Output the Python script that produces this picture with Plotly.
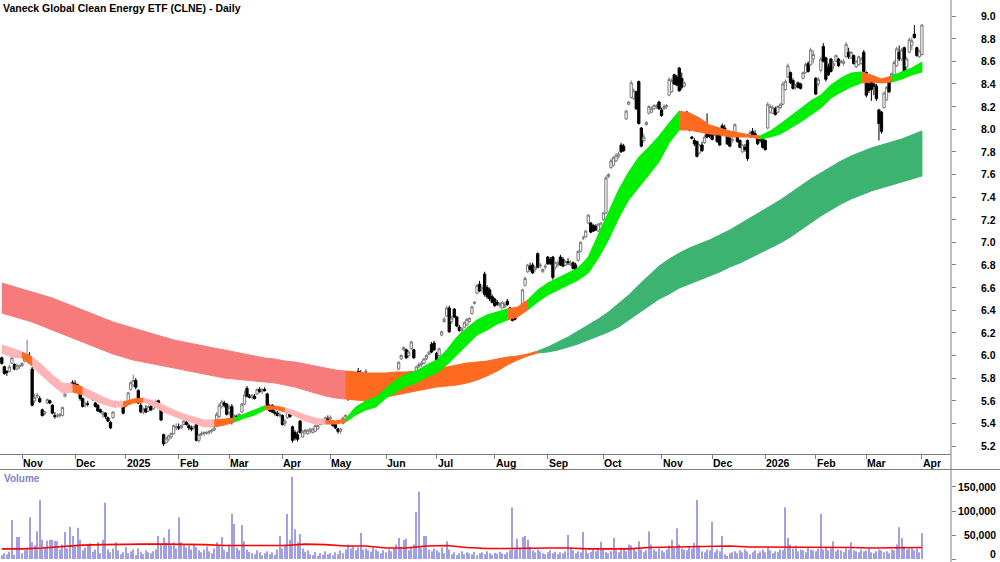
import numpy as np
import pandas as pd
import plotly.graph_objects as go

TITLE = "Vaneck Global Clean Energy ETF (CLNE) - Daily"

# ASX trading calendar (weekdays minus exchange holidays)
holidays = ["2024-12-25", "2024-12-26", "2025-01-01", "2025-01-27", "2025-04-18",
            "2025-04-21", "2025-04-25", "2025-06-09", "2025-12-25", "2025-12-26",
            "2026-01-01", "2026-01-26"]
dates = [d for d in pd.bdate_range("2024-10-22", "2026-04-01")
         if d.strftime("%Y-%m-%d") not in holidays]

month_labels = ["Nov", "Dec", "2025", "Feb", "Mar", "Apr", "May", "Jun", "Jul", "Aug",
                "Sep", "Oct", "Nov", "Dec", "2026", "Feb", "Mar", "Apr"]

opens = [
    5.98, 5.90, 5.86, 5.86, 5.93, 5.92, 5.88, 5.90,  # Oct 24
    5.91, 5.95, 5.96, 5.99, 5.88, 5.60, 5.64, 5.62, 5.52, 5.49, 5.58, 5.60, 5.56, 5.47, 5.46, 5.47, 5.47, 5.64, 5.69, 5.72, 5.76,  # Nov
    5.75, 5.74, 5.72, 5.62, 5.56, 5.57, 5.66, 5.63, 5.58, 5.56, 5.52, 5.48, 5.49, 5.45, 5.41, 5.45, 5.55, 5.57, 5.57, 5.58,  # Dec
    5.55, 5.58, 5.70, 5.74, 5.78, 5.69, 5.56, 5.50, 5.53, 5.51, 5.55, 5.53, 5.58, 5.60, 5.53, 5.30, 5.23, 5.26, 5.28, 5.31, 5.36,  # Jan 25
    5.37, 5.36, 5.39, 5.41, 5.38, 5.36, 5.36, 5.39, 5.25, 5.30, 5.31, 5.31, 5.32, 5.33, 5.34, 5.38, 5.46, 5.55, 5.58, 5.57,  # Feb
    5.50, 5.55, 5.45, 5.46, 5.46, 5.50, 5.57, 5.71, 5.64, 5.63, 5.64, 5.66, 5.70, 5.68, 5.70, 5.66, 5.55, 5.56, 5.50, 5.49, 5.47,  # Mar
    5.47, 5.40, 5.45, 5.48, 5.37, 5.32, 5.30, 5.42, 5.28, 5.33, 5.31, 5.33, 5.32, 5.33, 5.35, 5.39, 5.42, 5.41, 5.44,  # Apr
    5.44, 5.42, 5.39, 5.35, 5.33, 5.40, 5.46, 5.70, 5.64, 5.75, 5.80, 5.86, 5.85, 5.80, 5.85, 5.80, 5.67, 5.64, 5.66, 5.69, 5.74, 5.70,  # May
    5.67, 5.73, 5.76, 5.80, 5.84, 5.88, 5.97, 6.05, 6.05, 6.00, 6.06, 6.05, 5.86, 5.90, 5.92, 5.93, 5.97, 6.01, 6.10, 6.11,  # Jun
    6.02, 6.00, 6.18, 6.30, 6.35, 6.42, 6.30, 6.41, 6.34, 6.25, 6.22, 6.25, 6.27, 6.30, 6.37, 6.46, 6.55, 6.63, 6.58, 6.72, 6.60, 6.58, 6.52,  # Jul
    6.50, 6.47, 6.44, 6.42, 6.43, 6.48, 6.42, 6.38, 6.36, 6.36, 6.37, 6.45, 6.62, 6.74, 6.79, 6.80, 6.76, 6.90, 6.79, 6.74, 6.78,  # Aug
    6.87, 6.85, 6.87, 6.78, 6.80, 6.87, 6.85, 6.80, 6.83, 6.80, 6.82, 6.80, 6.84, 6.92, 7.04, 7.05, 7.17, 7.17, 7.15, 7.14, 7.10, 7.12,  # Sep
    7.20, 7.26, 7.58, 7.66, 7.68, 7.72, 7.76, 7.86, 7.85, 8.09, 8.22, 8.28, 8.27, 8.33, 8.42, 8.01, 7.90, 8.04, 8.14, 8.15, 8.18, 8.20, 8.24,  # Oct
    8.17, 8.18, 8.20, 8.30, 8.33, 8.48, 8.46, 8.54, 8.45, 8.38, 8.15, 8.05, 7.93, 7.90, 7.89, 7.79, 7.86, 7.88, 8.02, 7.99,  # Nov
    7.99, 7.95, 7.98, 7.96, 8.03, 8.01, 7.95, 7.92, 7.90, 7.95, 7.93, 7.90, 7.80, 7.84, 7.90, 7.93, 7.98, 7.96, 7.93, 7.91, 7.92,  # Dec
    7.90, 8.01, 8.15, 8.14, 8.18, 8.15, 8.19, 8.22, 8.35, 8.46, 8.50, 8.43, 8.37, 8.41, 8.40, 8.45, 8.50, 8.58, 8.57, 8.62,  # Jan 26
    8.45, 8.40, 8.52, 8.73, 8.63, 8.55, 8.62, 8.56, 8.60, 8.62, 8.59, 8.58, 8.64, 8.68, 8.63, 8.65, 8.55, 8.57, 8.58, 8.68,  # Feb
    8.50, 8.40, 8.43, 8.40, 8.38, 8.17, 8.15, 8.19, 8.26, 8.42, 8.42, 8.48, 8.56, 8.68, 8.62, 8.72, 8.55, 8.68, 8.74, 8.84, 8.72, 8.64,  # Mar
    8.66,  # Apr
]
highs = [
    5.99, 5.91, 5.87, 5.92, 5.99, 5.93, 5.93, 5.92,
    5.94, 6.02, 6.14, 6.03, 5.90, 5.66, 5.67, 5.64, 5.53, 5.51, 5.62, 5.61, 5.57, 5.50, 5.49, 5.49, 5.55, 5.68, 5.75, 5.76, 5.78,
    5.78, 5.75, 5.73, 5.63, 5.59, 5.60, 5.68, 5.64, 5.59, 5.57, 5.53, 5.51, 5.50, 5.46, 5.42, 5.51, 5.60, 5.59, 5.60, 5.59,
    5.59, 5.68, 5.77, 5.83, 5.80, 5.70, 5.58, 5.54, 5.56, 5.56, 5.58, 5.58, 5.61, 5.61, 5.54, 5.31, 5.28, 5.30, 5.32, 5.39, 5.40,
    5.40, 5.39, 5.43, 5.43, 5.40, 5.38, 5.38, 5.40, 5.31, 5.33, 5.33, 5.33, 5.34, 5.35, 5.37, 5.50, 5.58, 5.61, 5.60, 5.58,
    5.56, 5.57, 5.48, 5.48, 5.49, 5.58, 5.69, 5.73, 5.66, 5.66, 5.66, 5.71, 5.72, 5.71, 5.72, 5.67, 5.57, 5.57, 5.52, 5.51, 5.50,
    5.48, 5.44, 5.52, 5.50, 5.38, 5.34, 5.33, 5.43, 5.34, 5.35, 5.35, 5.36, 5.36, 5.39, 5.39, 5.43, 5.44, 5.46, 5.47,
    5.47, 5.43, 5.41, 5.36, 5.36, 5.46, 5.48, 5.72, 5.70, 5.81, 5.84, 5.89, 5.87, 5.82, 5.88, 5.81, 5.68, 5.68, 5.70, 5.73, 5.78, 5.78,
    5.75, 5.76, 5.82, 5.85, 5.85, 5.95, 6.01, 6.08, 6.06, 6.05, 6.13, 6.06, 5.91, 5.94, 5.95, 5.98, 6.01, 6.04, 6.12, 6.13,
    6.03, 6.07, 6.22, 6.34, 6.44, 6.44, 6.35, 6.42, 6.35, 6.27, 6.25, 6.30, 6.33, 6.34, 6.44, 6.48, 6.63, 6.66, 6.62, 6.74, 6.62, 6.60, 6.54,
    6.51, 6.49, 6.47, 6.48, 6.47, 6.50, 6.43, 6.39, 6.37, 6.39, 6.40, 6.59, 6.70, 6.81, 6.82, 6.82, 6.79, 6.91, 6.82, 6.77, 6.81,
    6.88, 6.87, 6.88, 6.83, 6.84, 6.89, 6.87, 6.84, 6.86, 6.84, 6.83, 6.82, 6.93, 7.01, 7.06, 7.11, 7.25, 7.18, 7.16, 7.16, 7.17, 7.18,
    7.27, 7.59, 7.61, 7.74, 7.76, 7.79, 7.80, 7.88, 7.87, 8.17, 8.25, 8.43, 8.36, 8.34, 8.43, 8.02, 7.96, 8.07, 8.21, 8.20, 8.22, 8.22, 8.25,
    8.19, 8.22, 8.22, 8.46, 8.45, 8.49, 8.48, 8.55, 8.50, 8.42, 8.16, 8.14, 7.94, 7.92, 7.90, 7.87, 7.89, 7.95, 8.14, 8.02,
    8.00, 8.01, 8.00, 7.99, 8.05, 8.04, 7.96, 7.95, 7.93, 8.05, 7.94, 7.91, 7.87, 7.87, 7.91, 7.99, 8.01, 7.99, 7.94, 7.93, 7.93,
    7.91, 8.24, 8.22, 8.21, 8.20, 8.21, 8.23, 8.42, 8.44, 8.58, 8.51, 8.45, 8.40, 8.42, 8.41, 8.51, 8.59, 8.60, 8.72, 8.70,
    8.46, 8.46, 8.64, 8.76, 8.64, 8.58, 8.63, 8.60, 8.66, 8.63, 8.61, 8.62, 8.77, 8.72, 8.69, 8.66, 8.61, 8.65, 8.64, 8.70,
    8.51, 8.45, 8.44, 8.42, 8.40, 8.18, 8.16, 8.33, 8.38, 8.43, 8.50, 8.61, 8.73, 8.74, 8.72, 8.73, 8.64, 8.81, 8.81, 8.92, 8.73, 8.70,
    8.93,
]
lows = [
    5.92, 5.83, 5.82, 5.85, 5.93, 5.87, 5.87, 5.88,
    5.90, 5.94, 5.95, 5.95, 5.55, 5.58, 5.62, 5.58, 5.46, 5.47, 5.57, 5.57, 5.48, 5.44, 5.45, 5.45, 5.46, 5.63, 5.68, 5.70, 5.70,
    5.72, 5.70, 5.60, 5.54, 5.54, 5.55, 5.62, 5.60, 5.54, 5.50, 5.49, 5.45, 5.44, 5.41, 5.35, 5.44, 5.54, 5.55, 5.55, 5.48,
    5.54, 5.57, 5.69, 5.72, 5.70, 5.57, 5.49, 5.48, 5.49, 5.50, 5.51, 5.52, 5.55, 5.53, 5.42, 5.20, 5.22, 5.24, 5.26, 5.30, 5.34,
    5.34, 5.35, 5.38, 5.38, 5.34, 5.33, 5.34, 5.24, 5.23, 5.29, 5.29, 5.30, 5.30, 5.31, 5.33, 5.37, 5.45, 5.53, 5.54, 5.47,
    5.47, 5.39, 5.44, 5.45, 5.45, 5.49, 5.56, 5.63, 5.62, 5.61, 5.61, 5.65, 5.67, 5.66, 5.68, 5.53, 5.50, 5.49, 5.47, 5.46, 5.45,
    5.38, 5.37, 5.44, 5.45, 5.23, 5.25, 5.24, 5.31, 5.27, 5.30, 5.30, 5.31, 5.31, 5.32, 5.34, 5.38, 5.39, 5.40, 5.42,
    5.42, 5.37, 5.35, 5.31, 5.31, 5.39, 5.45, 5.60, 5.63, 5.73, 5.77, 5.80, 5.80, 5.75, 5.84, 5.75, 5.60, 5.62, 5.64, 5.67, 5.70, 5.69,
    5.65, 5.71, 5.75, 5.79, 5.81, 5.87, 5.96, 6.04, 5.97, 5.98, 6.05, 5.97, 5.85, 5.89, 5.90, 5.92, 5.96, 6.00, 6.02, 6.04,
    5.94, 5.99, 6.17, 6.29, 6.34, 6.20, 6.28, 6.33, 6.25, 6.21, 6.20, 6.24, 6.26, 6.29, 6.36, 6.45, 6.54, 6.56, 6.55, 6.52, 6.50, 6.48, 6.46,
    6.43, 6.44, 6.42, 6.41, 6.42, 6.44, 6.36, 6.30, 6.31, 6.34, 6.36, 6.44, 6.61, 6.73, 6.74, 6.72, 6.74, 6.77, 6.77, 6.73, 6.76,
    6.80, 6.80, 6.67, 6.76, 6.78, 6.79, 6.78, 6.79, 6.80, 6.79, 6.76, 6.74, 6.83, 6.91, 7.02, 7.04, 7.16, 7.08, 7.09, 7.10, 7.09, 7.11,
    7.19, 7.25, 7.57, 7.65, 7.67, 7.71, 7.74, 7.79, 7.80, 8.08, 8.21, 8.27, 8.26, 8.17, 8.04, 7.84, 7.88, 8.03, 8.13, 8.14, 8.17, 8.18, 8.17,
    8.11, 8.17, 8.18, 8.29, 8.32, 8.39, 8.38, 8.33, 8.35, 8.37, 7.99, 7.98, 7.91, 7.85, 7.75, 7.78, 7.80, 7.87, 7.92, 7.92,
    7.90, 7.94, 7.88, 7.85, 7.97, 7.98, 7.86, 7.84, 7.88, 7.94, 7.88, 7.83, 7.79, 7.80, 7.72, 7.92, 7.93, 7.93, 7.86, 7.88, 7.83,
    7.81, 8.00, 8.14, 8.13, 8.12, 8.14, 8.18, 8.21, 8.34, 8.45, 8.40, 8.35, 8.35, 8.36, 8.35, 8.44, 8.49, 8.50, 8.56, 8.58,
    8.30, 8.38, 8.50, 8.59, 8.42, 8.47, 8.50, 8.53, 8.59, 8.55, 8.58, 8.56, 8.63, 8.62, 8.62, 8.57, 8.54, 8.56, 8.57, 8.50,
    8.28, 8.32, 8.25, 8.30, 8.25, 7.90, 7.96, 8.18, 8.25, 8.32, 8.41, 8.47, 8.55, 8.60, 8.60, 8.46, 8.52, 8.67, 8.70, 8.80, 8.64, 8.63,
    8.65,
]
closes = [
    5.93, 5.84, 5.85, 5.90, 5.98, 5.88, 5.91, 5.91,
    5.93, 6.00, 6.01, 5.97, 5.56, 5.63, 5.65, 5.59, 5.47, 5.50, 5.61, 5.58, 5.49, 5.46, 5.47, 5.48, 5.54, 5.66, 5.74, 5.74, 5.71,
    5.73, 5.72, 5.62, 5.55, 5.58, 5.57, 5.63, 5.61, 5.55, 5.51, 5.50, 5.50, 5.46, 5.42, 5.36, 5.50, 5.58, 5.56, 5.58, 5.49,
    5.57, 5.67, 5.76, 5.78, 5.72, 5.58, 5.50, 5.52, 5.50, 5.55, 5.52, 5.57, 5.59, 5.54, 5.43, 5.22, 5.27, 5.29, 5.31, 5.38, 5.37,
    5.36, 5.38, 5.42, 5.39, 5.36, 5.35, 5.37, 5.25, 5.30, 5.31, 5.32, 5.32, 5.33, 5.34, 5.36, 5.48, 5.56, 5.59, 5.56, 5.48,
    5.54, 5.41, 5.47, 5.46, 5.48, 5.57, 5.65, 5.64, 5.63, 5.65, 5.62, 5.70, 5.68, 5.70, 5.69, 5.54, 5.51, 5.50, 5.49, 5.47, 5.48,
    5.39, 5.42, 5.50, 5.46, 5.25, 5.27, 5.26, 5.32, 5.33, 5.34, 5.34, 5.35, 5.35, 5.38, 5.38, 5.42, 5.40, 5.45, 5.43,
    5.45, 5.38, 5.36, 5.33, 5.35, 5.45, 5.47, 5.62, 5.68, 5.79, 5.78, 5.81, 5.82, 5.76, 5.86, 5.76, 5.61, 5.67, 5.69, 5.72, 5.72, 5.77,
    5.74, 5.75, 5.81, 5.84, 5.82, 5.94, 6.00, 6.07, 5.98, 6.03, 6.12, 5.98, 5.90, 5.92, 5.93, 5.97, 6.00, 6.03, 6.03, 6.05,
    5.95, 6.06, 6.21, 6.32, 6.42, 6.21, 6.33, 6.34, 6.26, 6.22, 6.24, 6.29, 6.32, 6.33, 6.43, 6.47, 6.62, 6.57, 6.60, 6.54, 6.52, 6.50, 6.47,
    6.44, 6.45, 6.46, 6.47, 6.45, 6.45, 6.37, 6.31, 6.32, 6.38, 6.39, 6.58, 6.68, 6.80, 6.76, 6.73, 6.78, 6.78, 6.80, 6.76, 6.79,
    6.81, 6.81, 6.69, 6.82, 6.82, 6.80, 6.79, 6.83, 6.82, 6.81, 6.77, 6.75, 6.92, 7.00, 7.04, 7.10, 7.24, 7.09, 7.10, 7.11, 7.16, 7.17,
    7.26, 7.57, 7.60, 7.72, 7.75, 7.77, 7.78, 7.80, 7.81, 8.16, 8.24, 8.41, 8.34, 8.18, 8.05, 7.85, 7.93, 8.06, 8.20, 8.18, 8.21, 8.21, 8.18,
    8.12, 8.20, 8.21, 8.44, 8.43, 8.40, 8.39, 8.34, 8.37, 8.41, 8.00, 8.02, 7.92, 7.87, 7.76, 7.86, 7.81, 7.93, 7.93, 7.94,
    7.91, 7.97, 7.89, 7.86, 7.98, 8.00, 7.87, 7.85, 7.91, 8.04, 7.89, 7.84, 7.86, 7.82, 7.74, 7.97, 7.94, 7.95, 7.87, 7.90, 7.84,
    7.82, 8.22, 8.20, 8.19, 8.13, 8.20, 8.22, 8.40, 8.42, 8.56, 8.41, 8.36, 8.38, 8.37, 8.36, 8.50, 8.57, 8.51, 8.70, 8.66,
    8.31, 8.44, 8.62, 8.60, 8.44, 8.48, 8.51, 8.58, 8.65, 8.56, 8.60, 8.60, 8.75, 8.64, 8.68, 8.58, 8.60, 8.64, 8.62, 8.51,
    8.30, 8.34, 8.35, 8.38, 8.27, 8.05, 7.98, 8.32, 8.37, 8.33, 8.49, 8.59, 8.71, 8.62, 8.70, 8.48, 8.62, 8.79, 8.78, 8.81, 8.65, 8.69,
    8.92,
]

# daily volume, thousands of units
volume_k = [
    8, 12, 10, 15, 81, 9, 46, 46, 12, 18,
    22, 87, 35, 28, 58, 123, 40, 25, 38, 40,
    40, 38, 37, 20, 30, 56, 22, 67, 48, 25,
    65, 40, 18, 24, 30, 33, 15, 20, 35, 12,
    40, 117, 20, 14, 22, 35, 18, 10, 14, 25,
    12, 16, 20, 8, 22, 15, 10, 18, 14, 12,
    16, 20, 48, 30, 45, 34, 62, 28, 35, 22,
    87, 35, 30, 24, 28, 20, 32, 25, 18, 14,
    20, 26, 16, 12, 22, 35, 28, 46, 20, 15,
    30, 94, 73, 24, 18, 71, 37, 20, 15, 12,
    10, 18, 14, 8, 12, 16, 10, 14, 9, 20,
    48, 22, 30, 94, 40, 171, 62, 35, 52, 22,
    15, 18, 10, 8, 14, 6, 12, 9, 16, 10,
    12, 8, 14, 10, 18, 12, 20, 30, 22, 26,
    18, 24, 54, 20, 22, 18, 15, 24, 20, 16,
    12, 18, 14, 20, 16, 22, 30, 44, 25, 40,
    42, 18, 26, 30, 98, 140, 24, 48, 48, 20,
    16, 22, 18, 14, 24, 12, 37, 20, 10, 14,
    8, 12, 16, 10, 14, 12, 10, 15, 8, 12,
    14, 10, 16, 12, 9, 13, 11, 15, 12, 10,
    14, 18, 108, 20, 42, 22, 46, 48, 40, 25,
    18, 14, 20, 16, 12, 10, 14, 18, 12, 15,
    10, 14, 12, 16, 50, 22, 18, 12, 16, 14,
    56, 18, 12, 15, 20, 16, 22, 36, 20, 14,
    12, 16, 44, 18, 14, 24, 20, 16, 30, 28,
    22, 16, 37, 20, 14, 18, 58, 30, 20, 16,
    22, 18, 14, 20, 28, 40, 24, 64, 30, 22,
    20, 18, 26, 22, 34, 123, 28, 16, 14, 20,
    18, 77, 14, 20, 16, 48, 10, 6, 12, 14,
    16, 12, 18, 14, 20, 16, 10, 14, 18, 12,
    16, 20, 14, 24, 18, 12, 16, 14, 20, 18,
    108, 44, 30, 22, 28, 16, 20, 18, 14, 24,
    20, 18, 16, 22, 94, 20, 24, 18, 22, 37,
    16, 20, 18, 14, 22, 20, 35, 18, 16, 14,
    20, 16, 18, 22, 14, 12, 16, 20, 18, 14,
    16, 12, 20, 18, 30, 66, 44, 26, 20, 22,
    24, 18, 22, 14, 54,
]

# volume moving average (thousands), every 8th session + last
vol_ma_k = [21, 21, 23, 26, 29, 30, 31, 31, 31, 31, 30, 28, 28, 27, 28, 31, 30, 27, 27, 23,
            23, 27, 28, 24, 22, 22, 23, 23, 23, 21, 21, 21, 24, 25, 25, 27, 27, 25, 25, 25,
            25, 25, 24, 23, 23, 24, 24]

# EMA ribbons read every 4th session: upper / lower edges
short_upper = [6.092, 6.066, 6.031, 5.986, 5.916, 5.828, 5.757, 5.748, 5.721, 5.677,
               5.633, 5.598, 5.589, 5.615, 5.624, 5.598, 5.562, 5.518, 5.483, 5.456,
               5.430, 5.430, 5.439, 5.447, 5.483, 5.518, 5.554, 5.554, 5.536, 5.509,
               5.474, 5.447, 5.430, 5.421, 5.439, 5.545, 5.598, 5.633, 5.712, 5.783,
               5.836, 5.863, 5.916, 5.960, 6.048, 6.163, 6.243, 6.314, 6.358, 6.384,
               6.411, 6.428, 6.490, 6.579, 6.640, 6.685, 6.729, 6.773, 6.870, 7.065,
               7.268, 7.462, 7.621, 7.754, 7.842, 7.940, 8.054, 8.160, 8.143, 8.099,
               8.037, 8.010, 7.984, 7.966, 7.948, 7.940, 7.984, 8.046, 8.116, 8.187,
               8.249, 8.302, 8.390, 8.452, 8.496, 8.505, 8.479, 8.443, 8.470, 8.505,
               8.540, 8.593]
short_lower = [6.022, 5.986, 5.978, 5.907, 5.819, 5.739, 5.668, 5.677, 5.651, 5.607,
               5.571, 5.545, 5.545, 5.580, 5.589, 5.554, 5.500, 5.465, 5.430, 5.403,
               5.368, 5.368, 5.385, 5.412, 5.447, 5.474, 5.518, 5.527, 5.500, 5.465,
               5.421, 5.394, 5.394, 5.394, 5.412, 5.474, 5.518, 5.545, 5.624, 5.677,
               5.730, 5.757, 5.810, 5.845, 5.916, 6.004, 6.093, 6.181, 6.225, 6.278,
               6.314, 6.340, 6.402, 6.473, 6.534, 6.579, 6.623, 6.667, 6.729, 6.861,
               7.021, 7.215, 7.374, 7.489, 7.595, 7.710, 7.878, 7.993, 7.993, 7.975,
               7.957, 7.948, 7.931, 7.931, 7.931, 7.913, 7.931, 7.957, 8.010, 8.063,
               8.125, 8.187, 8.275, 8.328, 8.373, 8.408, 8.417, 8.408, 8.417, 8.443,
               8.479, 8.505]
long_upper = [6.640, 6.614, 6.587, 6.561, 6.534, 6.508, 6.473, 6.437, 6.402, 6.367,
              6.331, 6.296, 6.269, 6.243, 6.216, 6.190, 6.163, 6.137, 6.119, 6.102,
              6.084, 6.066, 6.048, 6.031, 6.013, 5.995, 5.978, 5.969, 5.951, 5.942,
              5.925, 5.907, 5.889, 5.872, 5.863, 5.854, 5.845, 5.845, 5.845, 5.854,
              5.854, 5.863, 5.872, 5.889, 5.898, 5.916, 5.933, 5.942, 5.951, 5.969,
              5.986, 5.995, 6.013, 6.039, 6.075, 6.119, 6.163, 6.216, 6.269, 6.322,
              6.384, 6.455, 6.534, 6.623, 6.711, 6.790, 6.852, 6.905, 6.950, 6.985,
              7.021, 7.065, 7.109, 7.162, 7.215, 7.268, 7.321, 7.374, 7.436, 7.498,
              7.560, 7.613, 7.666, 7.719, 7.763, 7.798, 7.834, 7.860, 7.887, 7.913,
              7.948, 7.984]
long_lower = [6.375, 6.349, 6.322, 6.296, 6.261, 6.225, 6.190, 6.154, 6.119, 6.084,
              6.048, 6.013, 5.986, 5.960, 5.942, 5.925, 5.907, 5.889, 5.872, 5.854,
              5.836, 5.819, 5.801, 5.792, 5.783, 5.775, 5.766, 5.757, 5.739, 5.721,
              5.695, 5.668, 5.642, 5.624, 5.615, 5.607, 5.598, 5.615, 5.633, 5.651,
              5.668, 5.686, 5.704, 5.721, 5.730, 5.739, 5.757, 5.783, 5.819, 5.863,
              5.916, 5.960, 5.995, 6.022, 6.031, 6.048, 6.075, 6.102, 6.137, 6.172,
              6.208, 6.252, 6.314, 6.375, 6.437, 6.499, 6.543, 6.596, 6.632, 6.667,
              6.702, 6.738, 6.782, 6.817, 6.861, 6.905, 6.950, 6.994, 7.047, 7.109,
              7.171, 7.233, 7.286, 7.339, 7.383, 7.418, 7.454, 7.480, 7.507, 7.533,
              7.560, 7.586]
# ribbon state for each span between samples: bear / mixed / bull
short_state = list("PPOPPPPOPP" "PPOOPPPPPP" "POOGGGOOPP" "PPOOGGGGGG" "GGGGGGGGGG"
                   "OOGGGGGGGG" "GGGGGGGOOO" "OOOOOGGGGG" "GGGGGOOOGG" "G")
long_state = list("R" * 34 + "O" * 19 + "G" * 38)

price_ticks = [5.2, 5.4, 5.6, 5.8, 6.0, 6.2, 6.4, 6.6, 6.8, 7.0, 7.2, 7.4, 7.6, 7.8,
               8.0, 8.2, 8.4, 8.6, 8.8, 9.0]
volume_ticks = [0, 50000, 100000, 150000]

# ---------------------------------------------------------------------------
n = len(dates)
assert n == 365
for arr in (opens, highs, lows, closes, volume_k):
    assert len(arr) == n, len(arr)
for arr in (short_upper, short_lower, long_upper, long_lower):
    assert len(arr) == 92
assert len(short_state) == 91 and len(long_state) == 91

xi = np.arange(n)
rib_x = np.arange(0, n, 4)
ma_x = list(range(0, 361, 8)) + [n - 1]
assert len(ma_x) == len(vol_ma_k)

month_idx = [i for i in range(1, n) if dates[i].month != dates[i - 1].month]
assert len(month_idx) == len(month_labels)

FONT = "Liberation Sans Narrow, Arial Narrow, Liberation Sans, Arial, sans-serif"
FS = 10.5
COLORS = {"P": "#ffb4b6", "O": "#ff6a21", "G": "#00ee00",
          "R": "#f77b7b", "L": "#3cb371"}

fig = go.Figure()


def add_ribbon(upper, lower, states, cmap):
    up = np.array(upper)
    lo = np.array(lower)
    i = 0
    m = len(states)
    while i < m:
        j = i
        while j + 1 < m and states[j + 1] == states[i]:
            j += 1
        seg = slice(i, j + 2)
        px = list(rib_x[seg]) + list(rib_x[seg][::-1])
        py = list(up[seg]) + list(lo[seg][::-1])
        c = cmap[states[i]]
        fig.add_trace(go.Scatter(x=px, y=py, fill="toself", fillcolor=c, mode="lines",
                                 line=dict(color=c, width=1), hoverinfo="skip",
                                 showlegend=False, xaxis="x", yaxis="y"))
        i = j + 1


add_ribbon(long_upper, long_lower, long_state,
           {"R": COLORS["R"], "O": COLORS["O"], "G": COLORS["L"]})
add_ribbon(short_upper, short_lower, short_state,
           {"P": COLORS["P"], "O": COLORS["O"], "G": COLORS["G"]})

fig.add_trace(go.Candlestick(
    x=xi, open=opens, high=highs, low=lows, close=closes,
    increasing=dict(line=dict(color="#7a7a7a", width=1), fillcolor="#ffffff"),
    decreasing=dict(line=dict(color="#000000", width=1), fillcolor="#000000"),
    whiskerwidth=0, showlegend=False, xaxis="x", yaxis="y", name="CLNE"))

fig.add_trace(go.Bar(x=xi, y=[v * 1000 for v in volume_k], width=0.42,
                     marker=dict(color="#a0a0e2", line=dict(width=0)),
                     showlegend=False, xaxis="x2", yaxis="y2", name="Volume"))
fig.add_trace(go.Scatter(x=ma_x, y=[v * 1000 for v in vol_ma_k], mode="lines",
                         line=dict(color="#ff0000", width=1.6), showlegend=False,
                         xaxis="x2", yaxis="y2", hoverinfo="skip"))

W, H = 1000, 562
PLOT_R = 951
axis_grey = "#7f7f7f"


def lab_font(color="#000000", size=FS):
    return dict(family=FONT, size=size, color=color, weight="bold")


annotations = [
    dict(text=TITLE, xref="paper", yref="paper", x=1 / PLOT_R, y=1 - 8 / H,
         xanchor="left", yanchor="middle", showarrow=False, font=lab_font(size=10.5)),
    dict(text="Volume", xref="paper", yref="paper", x=2 / PLOT_R, y=1 - 478 / H,
         xanchor="left", yanchor="middle", showarrow=False, font=lab_font("#8282c4", 10)),
]
for v in price_ticks:
    annotations.append(dict(text=f"{v:.1f}", xref="paper", yref="y", x=998 / PLOT_R, y=v,
                            xanchor="right", yanchor="middle", showarrow=False,
                            font=lab_font()))
for v in volume_ticks:
    if v == 0:
        annotations.append(dict(text=f"{v:,}", xref="paper", yref="paper", x=998 / PLOT_R,
                                y=0, xanchor="right", yanchor="bottom", showarrow=False,
                                font=lab_font()))
    else:
        annotations.append(dict(text=f"{v:,}", xref="paper", yref="y2", x=998 / PLOT_R, y=v,
                                xanchor="right", yanchor="middle", showarrow=False,
                                font=lab_font()))
for i, lab in zip(month_idx, month_labels):
    annotations.append(dict(text=lab, xref="x", yref="paper", x=i, y=1 - 462.5 / H,
                            xanchor="left", yanchor="middle", xshift=-1, showarrow=False,
                            font=lab_font()))

xr = [-0.71, 375.5]
fig.update_layout(
    width=W, height=H, autosize=False,
    margin=dict(l=0, r=W - PLOT_R, t=0, b=0, pad=0),
    paper_bgcolor="#ffffff", plot_bgcolor="#ffffff",
    showlegend=False, hovermode="closest",
    boxgap=0.02, boxgroupgap=0.08,
    xaxis=dict(domain=[0, 1], range=xr, anchor="y", showgrid=False, zeroline=False,
               showline=True, linecolor=axis_grey, linewidth=1,
               tickmode="array", tickvals=month_idx, ticks="outside", ticklen=4,
               tickcolor=axis_grey, showticklabels=False, rangeslider=dict(visible=False)),
    yaxis=dict(domain=[1 - 454 / H, 1], range=[5.1294, 9.1414], side="right", anchor="x",
               showgrid=False, zeroline=False, showline=False,
               tickmode="array", tickvals=price_ticks, ticks="outside", ticklen=4,
               tickcolor=axis_grey, showticklabels=False),
    xaxis2=dict(domain=[0, 1], range=xr, anchor="y2", matches="x", showgrid=False,
                zeroline=False, showline=False, showticklabels=False, ticks=""),
    yaxis2=dict(domain=[0, 1 - 470 / H], range=[-6250, 185400], side="right", anchor="x2",
                showgrid=False, zeroline=False, showline=False,
                tickmode="array", tickvals=volume_ticks, ticks="outside", ticklen=4,
                tickcolor=axis_grey, showticklabels=False),
    bargap=0.4,
    annotations=annotations,
    shapes=[
        dict(type="line", xref="paper", yref="paper", x0=1, x1=1, y0=0, y1=1,
             line=dict(color=axis_grey, width=1)),
        dict(type="line", xref="paper", yref="paper", x0=0, x1=W / PLOT_R,
             y0=1 - 469.5 / H, y1=1 - 469.5 / H, line=dict(color=axis_grey, width=1)),
    ],
)

fig.write_html("out.html")
